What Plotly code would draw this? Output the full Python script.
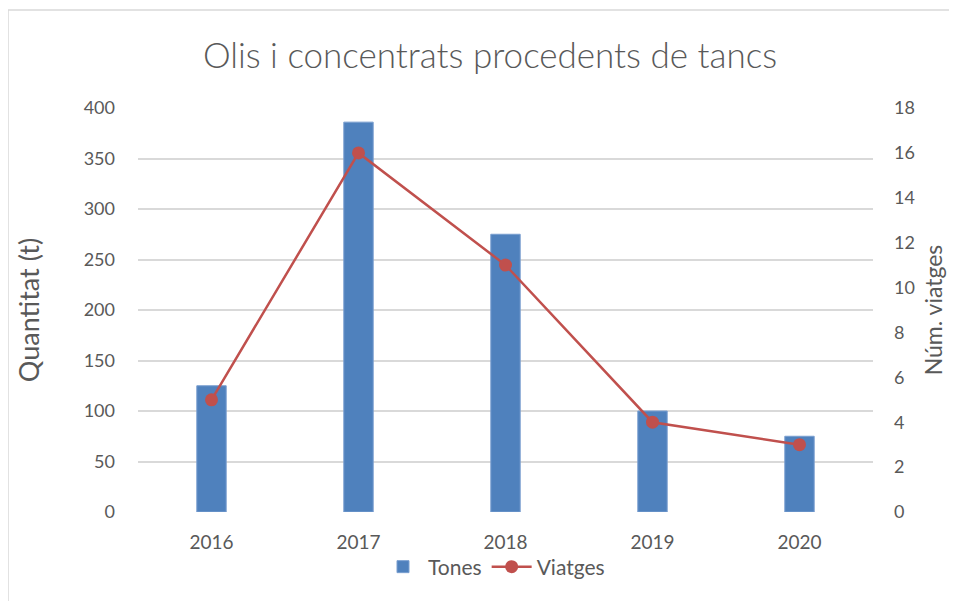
import plotly.graph_objects as go

years = ["2016", "2017", "2018", "2019", "2020"]
tones = [125, 386, 275, 100, 75]
viatges = [5, 16, 11, 4, 3]

title_text = "Olis i concentrats procedents de tancs"
left_title = "Quantitat (t)"
right_title = "Núm. viatges"

FONT = "Lato"
GREY = "#595959"
OFF = 8  # page body margin
W, H = 957 - OFF, 601 - OFF
# plot area in page coords
PX0, PX1, PY0, PY1 = 138, 873, 108, 512
L, R = PX0 - OFF, W - (PX1 - OFF)
T, B = PY0 - OFF, H - (PY1 - OFF)
pw, ph = W - L - R, H - T - B

def px_x(p):
    return (p - PX0) / pw

def px_y(p):
    return (PY1 - p) / ph

fig = go.Figure()
fig.add_trace(go.Bar(
    x=years, y=tones, name="Tones",
    marker=dict(color="#4f81bd", line=dict(color="#7a9fd0", width=1)),
    yaxis="y",
))
fig.add_trace(go.Scatter(
    x=years, y=viatges, name="Viatges", mode="lines+markers",
    line=dict(color="#c0504d", width=2.5),
    marker=dict(color="#c0504d", size=13),
    yaxis="y2",
))

fig.update_layout(
    width=W, height=H,
    margin=dict(l=L, r=R, t=T, b=B, autoexpand=False),
    paper_bgcolor="white", plot_bgcolor="white",
    bargap=0.8,
    font=dict(family=FONT, color=GREY, size=18),
    title=dict(text=title_text, x=(490 - OFF) / W, xref="container", xanchor="center",
               y=(H - (56 - OFF)) / H, yref="container", yanchor="middle",
               font=dict(family=FONT, size=35, color=GREY, weight=300)),
    xaxis=dict(showgrid=False, showline=False, ticks="", zeroline=False, automargin=False,
               ticklabelstandoff=17, tickfont=dict(size=19, color=GREY)),
    yaxis=dict(range=[0, 400], dtick=50, showgrid=True, gridcolor="#d9d9d9", gridwidth=1.5,
               zeroline=False, showline=False, ticks="", ticklabelstandoff=22, automargin=False,
               tickfont=dict(size=18, color=GREY),
               title=dict(text=left_title, font=dict(size=27, color=GREY), standoff=36)),
    yaxis2=dict(range=[0, 18], dtick=2, overlaying="y", side="right", showgrid=False,
                zeroline=False, showline=False, ticks="", ticklabelstandoff=20, automargin=False,
                tickfont=dict(size=18, color=GREY),
                title=dict(text=right_title, font=dict(size=23, color=GREY), standoff=12)),
    legend=dict(orientation="h", x=px_x(494), xanchor="center", xref="paper",
                y=px_y(567), yanchor="middle", font=dict(size=21, color=GREY),
                bgcolor="rgba(0,0,0,0)", itemwidth=40, traceorder="normal"),
    showlegend=True,
)

fig.add_shape(type="rect", xref="paper", yref="paper",
              x0=px_x(8), x1=px_x(975), y0=px_y(620), y1=px_y(10),
              line=dict(color="#d9d9d9", width=1.5), fillcolor="rgba(0,0,0,0)", layer="below")

fig.write_html("out.html")
